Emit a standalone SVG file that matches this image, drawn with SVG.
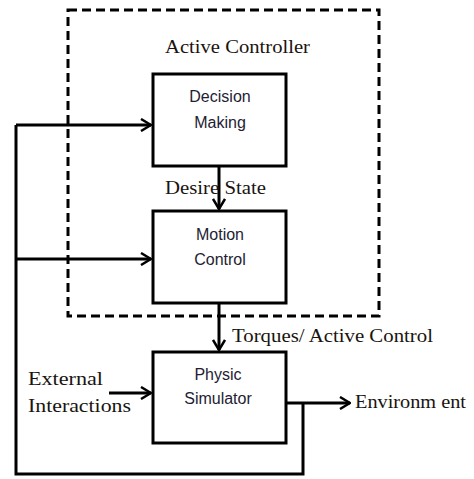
<svg xmlns="http://www.w3.org/2000/svg" width="474" height="479" viewBox="0 0 474 479">
  <defs>
    <style>
      .box { fill: #ffffff; stroke: #000000; stroke-width: 3; }
      .frame { fill: none; stroke: #000000; stroke-width: 3; stroke-dasharray: 9 5; }
      .wire { fill: none; stroke: #000000; stroke-width: 3; }
      .inbox { font-family: "Liberation Sans", Arial, sans-serif; font-size: 16px; fill: #241c33; text-anchor: middle; }
      .lbl { font-family: "Liberation Serif", "Times New Roman", serif; font-size: 19px; fill: #1a1410; }
    </style>
    <marker id="arrow" markerWidth="12" markerHeight="14" refX="11" refY="7" orient="auto" markerUnits="userSpaceOnUse">
      <path d="M1,1 L11,7 L1,13" fill="none" stroke="#000000" stroke-width="2.5"/>
    </marker>
  </defs>

  <rect fill="#ffffff" x="0" y="0" width="474" height="479"/>

  <!-- controller boundary -->
  <g id="active-controller">
    <rect class="frame" x="68" y="10" width="311" height="306"/>
    <text class="lbl" x="165" y="53" textLength="145" lengthAdjust="spacingAndGlyphs">Active Controller</text>
  </g>

  <g id="decision-making">
    <rect class="box" x="153" y="74" width="133" height="92"/>
    <text class="inbox" x="220" y="102">Decision</text>
    <text class="inbox" x="220" y="128">Making</text>
  </g>

  <g id="motion-control">
    <rect class="box" x="153" y="211" width="133" height="92"/>
    <text class="inbox" x="220" y="240">Motion</text>
    <text class="inbox" x="220" y="265">Control</text>
  </g>

  <g id="physic-simulator">
    <rect class="box" x="153" y="352" width="133" height="91"/>
    <text class="inbox" x="218" y="380">Physic</text>
    <text class="inbox" x="218" y="404">Simulator</text>
  </g>

  <g id="connectors">
    <!-- decision to motion -->
    <line class="wire" x1="219" y1="166" x2="219" y2="209" marker-end="url(#arrow)"/>
    <!-- motion to simulator -->
    <line class="wire" x1="219" y1="303" x2="219" y2="350" marker-end="url(#arrow)"/>
    <!-- external interactions into simulator -->
    <line class="wire" x1="109" y1="393" x2="151" y2="393" marker-end="url(#arrow)"/>
    <!-- simulator out to environment -->
    <line class="wire" x1="286" y1="403" x2="350" y2="403" marker-end="url(#arrow)"/>
    <!-- feedback loop -->
    <polyline class="wire" points="303,403 303,474 16,474 16,125"/>
    <line class="wire" x1="16" y1="125" x2="151" y2="125" marker-end="url(#arrow)"/>
    <line class="wire" x1="16" y1="259" x2="151" y2="259" marker-end="url(#arrow)"/>
  </g>

  <g id="labels">
    <text class="lbl" x="165" y="194" textLength="101" lengthAdjust="spacingAndGlyphs">Desire State</text>
    <text class="lbl" x="232" y="342" textLength="201" lengthAdjust="spacingAndGlyphs">Torques/ Active Control</text>
    <text class="lbl" x="28" y="385" textLength="75" lengthAdjust="spacingAndGlyphs">External</text>
    <text class="lbl" x="28" y="412" textLength="103" lengthAdjust="spacingAndGlyphs">Interactions</text>
    <text class="lbl" x="355" y="408" textLength="111" lengthAdjust="spacingAndGlyphs">Environm ent</text>
  </g>
</svg>
